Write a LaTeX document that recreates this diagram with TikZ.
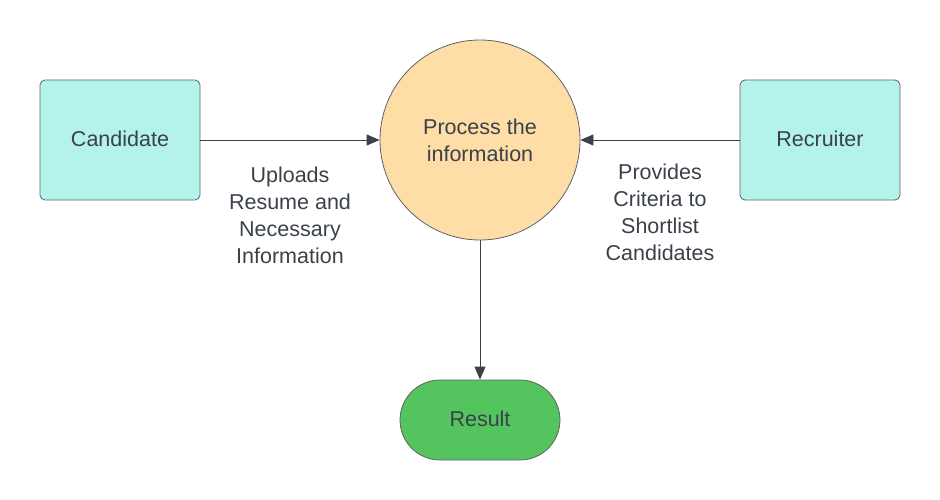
\documentclass[tikz,border=0pt]{standalone}
\usepackage{fontspec}
\setmainfont{Liberation Sans}
\usetikzlibrary{arrows.meta}
\definecolor{boxfill}{HTML}{B4F3EA}
\definecolor{circfill}{HTML}{FFDDA6}
\definecolor{resfill}{HTML}{53C45E}
\definecolor{edge}{HTML}{5F6366}
\definecolor{ink}{HTML}{3A414A}
\tikzset{
  actor/.style={draw=edge, line width=0.8pt, fill=boxfill, rounded corners=5pt, minimum width=160pt, minimum height=120pt, inner sep=0pt, text=ink, font=\fontsize{21.5}{27}\selectfont},
  proc/.style={draw=edge, line width=0.8pt, fill=circfill, circle, minimum size=200pt, inner sep=0pt, text=ink, align=center, font=\fontsize{21.5}{27}\selectfont},
  term/.style={draw=edge, line width=0.8pt, fill=resfill, rounded corners=40pt, minimum width=160pt, minimum height=80pt, inner sep=0pt, text=ink, font=\fontsize{21.5}{27}\selectfont},
  flow/.style={draw=ink, line width=0.8pt, -{Triangle[length=13pt,width=11pt]}},
  lbl/.style={text=ink, align=center, font=\fontsize{21.5}{27}\selectfont, inner sep=0pt}
}
\begin{document}
\begin{tikzpicture}[x=1pt,y=-1pt]
\useasboundingbox (0,0) rectangle (940,500);
\node[actor] (cand) at (120,140) {\raisebox{2pt}{Candidate}};
\node[actor] (recr) at (820,140) {\raisebox{2pt}{Recruiter}};
\node[proc] (proc) at (480,140) {Process the\\information};
\node[term] (res) at (480,420) {\raisebox{2pt}{Result}};
\draw[flow] (cand.east) -- (proc.west);
\draw[flow] (recr.west) -- (proc.east);
\draw[flow] (proc.south) -- (res.north);
\node[lbl] (l1) at (290,215) {Uploads\\Resume and\\Necessary\\Information};
\node[lbl] (l2) at (660,212) {Provides\\Criteria to\\Shortlist\\Candidates};
\end{tikzpicture}
\end{document}
